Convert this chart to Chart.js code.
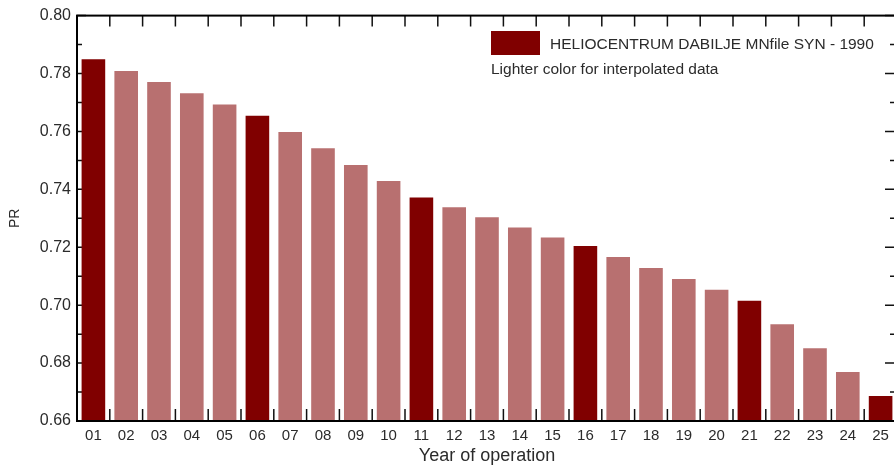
<!DOCTYPE html>
<html>
<head>
<meta charset="utf-8">
<script src="https://cdn.jsdelivr.net/npm/chart.js@4"></script>
<style>
  html, body { margin: 0; padding: 0; background: #fff; overflow: hidden; }
  #wrap { width: 898px; height: 468px; }
</style>
</head>
<body>
<div id="wrap"><canvas id="pr-chart" width="898" height="468"></canvas></div>
<script>
const years = ['01','02','03','04','05','06','07','08','09','10','11','12','13',
               '14','15','16','17','18','19','20','21','22','23','24','25'];
const prValues = [0.7849, 0.7809, 0.7771, 0.7732, 0.7693, 0.7654, 0.7598, 0.7542,
                  0.7484, 0.7429, 0.7372, 0.7338, 0.7304, 0.7268, 0.7234, 0.7204,
                  0.7166, 0.7128, 0.7090, 0.7053, 0.7015, 0.6934, 0.6851, 0.6769, 0.6686];
// years with simulated values (the rest are interpolated)
const simulatedYears = ['01','06','11','16','21','25'];
const yTicks = [0.66, 0.68, 0.70, 0.72, 0.74, 0.76, 0.78, 0.80];

const seriesName = 'HELIOCENTRUM DABILJE MNfile SYN - 1990';
const noteText = 'Lighter color for interpolated data';
const darkColor = 'rgb(128, 0, 0)';
const lightColor = 'rgb(184, 112, 112)';
const textColor = '#2b2b2b';

const barColors = years.map(y => simulatedYears.includes(y) ? darkColor : lightColor);

// frame, inward ticks and the little legend box
const framePlugin = {
    id: 'frame',
    beforeDatasetsDraw(chart) {
        const ctx = chart.ctx;
        const a = chart.chartArea;
        const xs = chart.scales.x;
        const ys = chart.scales.y;
        ctx.save();
        ctx.strokeStyle = '#111';
        ctx.lineWidth = 1.5;
        ctx.beginPath();
        for (let i = 1; i < years.length; i++) {
            const bx = (xs.getPixelForValue(i - 1) + xs.getPixelForValue(i)) / 2;
            ctx.moveTo(bx, a.bottom);
            ctx.lineTo(bx, a.bottom - 12);
            ctx.moveTo(bx, a.top);
            ctx.lineTo(bx, a.top + 11);
        }
        for (let i = 0; i < yTicks.length; i++) {
            const py = ys.getPixelForValue(yTicks[i]);
            ctx.moveTo(a.left, py);
            ctx.lineTo(a.left + 9, py);
            ctx.moveTo(a.right, py);
            ctx.lineTo(a.right - 12, py);
            if (i < yTicks.length - 1) {
                const my = ys.getPixelForValue((yTicks[i] + yTicks[i + 1]) / 2);
                ctx.moveTo(a.left, my);
                ctx.lineTo(a.left + 5, my);
                ctx.moveTo(a.right, my);
                ctx.lineTo(a.right - 7, my);
            }
        }
        ctx.stroke();
        ctx.restore();
    },
    afterDatasetsDraw(chart) {
        const ctx = chart.ctx;
        const a = chart.chartArea;
        ctx.save();
        ctx.strokeStyle = '#000';
        ctx.lineWidth = 2;
        ctx.strokeRect(a.left, a.top, a.right - a.left, a.bottom - a.top);

        // legend
        ctx.fillStyle = darkColor;
        ctx.fillRect(491, 31, 49, 24);
        ctx.fillStyle = textColor;
        ctx.font = '15.5px "Liberation Sans", Arial, sans-serif';
        ctx.textBaseline = 'middle';
        ctx.textAlign = 'left';
        ctx.fillText(chart.data.datasets[0].label, 550, 45);
        ctx.fillText(noteText, 491, 70);
        ctx.restore();
    }
};

new Chart(document.getElementById('pr-chart'), {
    type: 'bar',
    data: {
        labels: years,
        datasets: [{
            label: seriesName,
            data: prValues,
            backgroundColor: barColors,
            borderWidth: 0,
            barPercentage: 1,
            categoryPercentage: 0.72
        }]
    },
    options: {
        responsive: false,
        animation: false,
        devicePixelRatio: 1,
        layout: { padding: { top: 15, right: 1, left: 0, bottom: 0 } },
        plugins: {
            legend: { display: false },
            tooltip: { enabled: false }
        },
        scales: {
            x: {
                grid: { display: false, drawTicks: false },
                border: { display: false },
                ticks: {
                    color: textColor,
                    font: { family: '"Liberation Sans", Arial, sans-serif', size: 15 },
                    padding: 6,
                    maxRotation: 0,
                    autoSkip: false
                },
                title: {
                    display: true,
                    text: 'Year of operation',
                    color: textColor,
                    font: { family: '"Liberation Sans", Arial, sans-serif', size: 18 },
                    padding: { top: 0, bottom: 1 }
                },
                afterFit(scale) { scale.height = 47; }
            },
            y: {
                min: 0.66,
                max: 0.80,
                grid: { display: false, drawTicks: false },
                border: { display: false },
                afterBuildTicks(scale) {
                    scale.ticks = yTicks.map(v => ({ value: v }));
                },
                ticks: {
                    color: textColor,
                    font: { family: '"Liberation Sans", Arial, sans-serif', size: 16 },
                    padding: 6,
                    callback: v => Number(v).toFixed(2)
                },
                title: {
                    display: true,
                    text: 'PR',
                    color: textColor,
                    font: { family: '"Liberation Sans", Arial, sans-serif', size: 14 },
                    padding: { top: 7, bottom: 0 }
                },
                afterFit(scale) { scale.width = 77; }
            }
        }
    },
    plugins: [framePlugin]
});
</script>
</body>
</html>
